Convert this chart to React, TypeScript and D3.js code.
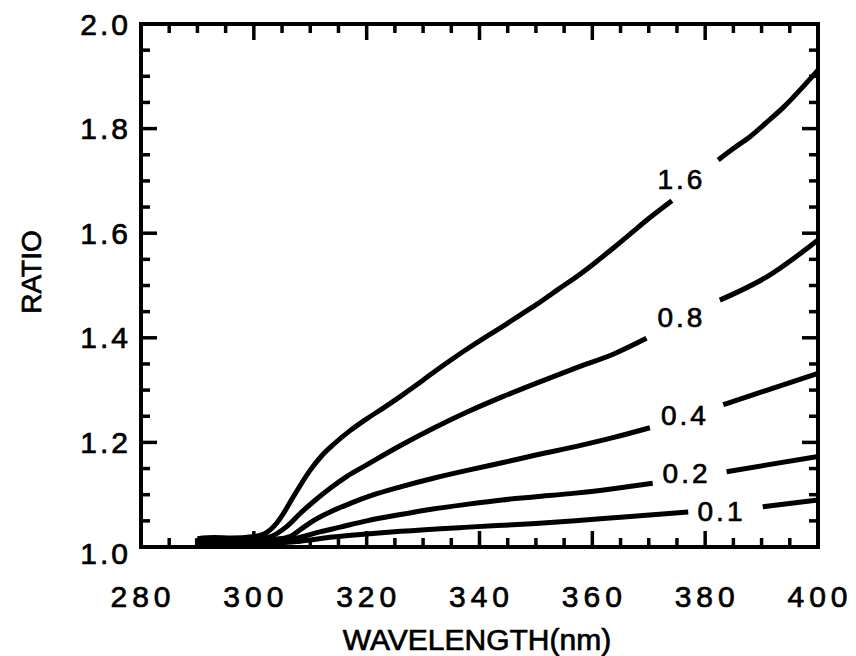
import React from "react";
import * as d3 from "d3";

const xTickLabels = [280, 300, 320, 340, 360, 380, 400];
const yTickLabels = ["1.0", "1.2", "1.4", "1.6", "1.8", "2.0"];
const yTickValues = [1.0, 1.2, 1.4, 1.6, 1.8, 2.0];

const seriesNames = ["1.6", "0.8", "0.4", "0.2", "0.1"];

const s16: [number, number][] = [
  [290, 1.0], [290, 1.016], [293, 1.018], [296, 1.017], [300, 1.02], [302, 1.026], [304, 1.045], [305, 1.06],
  [307, 1.096], [310, 1.147], [312, 1.174], [314, 1.195], [317, 1.222], [320, 1.245], [323, 1.266],
  [326, 1.288], [329, 1.311], [332, 1.335], [335, 1.358], [338, 1.38], [341, 1.401], [344, 1.421],
  [347, 1.442], [350, 1.463], [354, 1.493], [358, 1.523], [361, 1.548], [364, 1.574], [367, 1.601],
  [370, 1.628], [374.1, 1.662], [382.3, 1.74], [385, 1.762], [388, 1.785], [391, 1.813], [394, 1.842],
  [397, 1.876], [400, 1.912],
];
const s08: [number, number][] = [
  [290, 1.012], [295, 1.015], [300, 1.015], [303, 1.02], [305.8, 1.039], [308.2, 1.064], [310.5, 1.086],
  [314, 1.116], [316.5, 1.135], [320, 1.157], [326, 1.194], [332, 1.228], [338, 1.259], [344, 1.287],
  [350, 1.313], [357, 1.342], [364, 1.37], [369.6, 1.399], [382.6, 1.472], [391, 1.517], [400, 1.587],
];
const s04: [number, number][] = [
  [290, 1.01], [300, 1.012], [304, 1.015], [306.4, 1.02], [308.2, 1.033], [310.5, 1.05], [313.5, 1.067],
  [317, 1.083], [321, 1.099], [326, 1.115], [332, 1.132], [338, 1.147], [344, 1.161], [350, 1.176],
  [357, 1.192], [364, 1.21], [370.2, 1.228], [383.2, 1.272], [391, 1.3], [400, 1.332],
];
const s02: [number, number][] = [
  [290, 1.008], [300, 1.01], [305, 1.012], [307.6, 1.017], [311, 1.027], [315.3, 1.038], [320, 1.05],
  [326, 1.062], [332, 1.073], [338, 1.082], [344, 1.09], [350, 1.096], [357, 1.103], [364, 1.112],
  [370.7, 1.122], [383.8, 1.144], [391, 1.157], [400, 1.173],
];
const s01: [number, number][] = [
  [290, 1.006], [300, 1.007], [305, 1.008], [308.2, 1.011], [314, 1.019], [320, 1.025], [326, 1.03],
  [338, 1.038], [350, 1.045], [357, 1.05], [365, 1.057], [377, 1.067], [390.2, 1.077], [400, 1.09],
];
const seriesData = [s16, s08, s04, s02, s01];

// label gaps (wavelength range) and label anchor (wavelength, ratio)
const labelGaps: [number, number][] = [
  [374.1, 382.3], [369.6, 382.6], [370.2, 383.2], [370.7, 383.8], [377, 390.2],
];
const labelPos: [number, number][] = [
  [375.8, 1.702], [375.8, 1.438], [376.4, 1.252], [376.7, 1.141], [382.9, 1.067],
];

const W = 856;
const H = 656;
const x = d3.scaleLinear().domain([280, 400]).range([141, 818]);
const y = d3.scaleLinear().domain([1, 2]).range([547, 24]);

export default function App() {
  const font = "'Liberation Sans', Arial, Helvetica, sans-serif";
  const xMinor = d3.range(285, 400, 5);
  const yMinor = d3.range(1.05, 2.0, 0.05);
  const isMajorX = (v: number) => Math.abs((v - 280) % 20) < 1e-6;
  const isMajorY = (v: number) => Math.abs(Math.round(v * 5) - v * 5) < 1e-6;
  const ticks: JSX.Element[] = [];
  xMinor.forEach((v, i) => {
    const L = isMajorX(v) ? 16 : 9;
    const px = x(v);
    ticks.push(<line key={"xb" + i} x1={px} x2={px} y1={y(1)} y2={y(1) - L} stroke="#000" strokeWidth={3.5} />);
    ticks.push(<line key={"xt" + i} x1={px} x2={px} y1={y(2)} y2={y(2) + L} stroke="#000" strokeWidth={3.5} />);
  });
  yMinor.forEach((v, i) => {
    const L = isMajorY(v) ? 16 : 9;
    const py = y(v);
    ticks.push(<line key={"yl" + i} x1={x(280)} x2={x(280) + L} y1={py} y2={py} stroke="#000" strokeWidth={3.5} />);
    ticks.push(<line key={"yr" + i} x1={x(400)} x2={x(400) - L} y1={py} y2={py} stroke="#000" strokeWidth={3.5} />);
  });

  const line = d3
    .line<[number, number]>()
    .x((d) => x(d[0]))
    .y((d) => y(d[1]))
    .curve(d3.curveMonotoneX);

  const paths = seriesData.map((data, i) => {
    const [g0, g1] = labelGaps[i];
    const left = data.filter((d) => d[0] <= g0 && !(d[0] === 290 && d[1] === 1.0));
    const right = data.filter((d) => d[0] >= g1);
    const start = data.filter((d) => d[0] === 290);
    return (
      <g key={"s" + i}>
        <path d={line(left) || ""} fill="none" stroke="#000" strokeWidth={5} strokeLinejoin="round" strokeLinecap="butt" />
        <path d={line(right) || ""} fill="none" stroke="#000" strokeWidth={5} strokeLinejoin="round" strokeLinecap="butt" />
        {start.length > 1 && (
          <line x1={x(start[0][0])} x2={x(start[1][0])} y1={y(start[0][1])} y2={y(start[1][1])} stroke="#000" strokeWidth={5} />
        )}
      </g>
    );
  });

  const textStroke = { stroke: "#000", strokeWidth: 0.7 };

  return (
    <svg width={W} height={H} style={{ position: "absolute", left: 0, top: 0, background: "#fff" }}>
      <rect x={0} y={0} width={W} height={H} fill="#fff" />
      {paths}
      {ticks}
      <rect x={x(280)} y={y(2)} width={x(400) - x(280)} height={y(1) - y(2)} fill="none" stroke="#000" strokeWidth={4} />
      {seriesNames.map((n, i) => (
        <text key={"lab" + i} x={x(labelPos[i][0])} y={y(labelPos[i][1])} fontFamily={font} fontSize={28}
          letterSpacing={3} textAnchor="middle" dominantBaseline="central" fill="#000" {...textStroke}>{n}</text>
      ))}
      {xTickLabels.map((v, i) => (
        <text key={"xl" + i} x={x(v) + 2} y={607} fontFamily={font} fontSize={30} letterSpacing={5}
          textAnchor="middle" fill="#000" {...textStroke}>{v}</text>
      ))}
      {yTickLabels.map((t, i) => (
        <text key={"yl" + i} x={131} y={y(yTickValues[i]) + (i === 0 ? 6 : 0)} fontFamily={font} fontSize={30}
          letterSpacing={3} textAnchor="end" dominantBaseline="central" fill="#000" {...textStroke}>{t}</text>
      ))}
      <text x={477} y={650} fontFamily={font} fontSize={30} textAnchor="middle" fill="#000" {...textStroke}>WAVELENGTH(nm)</text>
      <text transform={`translate(41,272) rotate(-90)`} fontFamily={font} fontSize={28} textAnchor="middle" fill="#000" {...textStroke}>RATIO</text>
    </svg>
  );
}
